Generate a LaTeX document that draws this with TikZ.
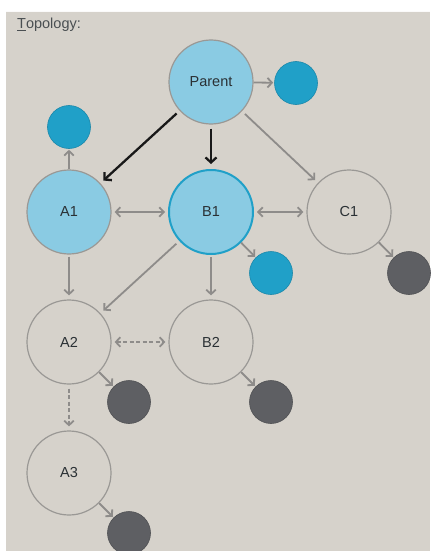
\documentclass[tikz,border=0pt]{standalone}
\usepackage{fontspec}
\setmainfont{Liberation Sans}
\usetikzlibrary{arrows.meta}
\definecolor{bgc}{HTML}{D6D2CB}
\definecolor{lblue}{HTML}{8ACBE3}
\definecolor{tealc}{HTML}{20A0C8}
\definecolor{darkc}{HTML}{5E5F63}
\definecolor{circg}{HTML}{9A9895}
\definecolor{arrg}{HTML}{8E8C8A}
\definecolor{txtc}{HTML}{2A3034}
\begin{document}
\begin{tikzpicture}[x=1pt,y=-1pt,
  big/.style={circle,minimum size=84pt,inner sep=0pt,draw=circg,line width=1.2pt,font=\fontsize{14.5}{15}\selectfont,text=txtc},
  bluebig/.style={big,fill=lblue},
  small/.style={circle,minimum size=43pt,inner sep=0pt},
  tealdot/.style={small,fill=tealc,draw=tealc!85!black,line width=0.6pt},
  darkdot/.style={small,fill=darkc,draw=darkc!85!black,line width=0.6pt},
  conn/.style={draw=arrg,line width=1.8pt,-{Straight Barb[length=4.5pt,width=9.5pt]}},
  conn2/.style={draw=arrg,line width=1.8pt,{Straight Barb[length=4.5pt,width=9.5pt]}-{Straight Barb[length=4.5pt,width=9.5pt]}},
  blk/.style={draw=black!90,line width=2.3pt,-{Straight Barb[length=5pt,width=11pt]}},
  dsh/.style={dash pattern=on 4pt off 2.5pt}
]
\useasboundingbox (0,0) rectangle (431,551);
\fill[white] (0,0) rectangle (431,551);
\fill[bgc] (6,11) rectangle (430,551);
\draw[white!90!bgc,line width=1pt] (6,11.5) -- (430,11.5);

\node[anchor=base west,inner sep=0pt,font=\fontsize{14.5}{15}\selectfont,text=txtc!85!white] (title) at (17,29) {\underline{T}opology:};

\node[bluebig] (P) at (211,82) {Parent};
\node[bluebig] (A1) at (69,212) {A1};
\node[bluebig,draw=tealc,line width=2pt] (B1) at (211,212) {B1};
\node[big] (C1) at (349,212) {C1};
\node[big] (A2) at (69,342) {A2};
\node[big] (B2) at (211,342) {B2};
\node[big] (A3) at (69,473) {A3};

\node[tealdot] (tP) at (296,83) {};
\node[tealdot] (tA1) at (69,127) {};
\node[tealdot] (tB1) at (271,273) {};
\node[darkdot] (dC1) at (409,273) {};
\node[darkdot] (dA2) at (129,402) {};
\node[darkdot] (dB2) at (271,402) {};
\node[darkdot] (dA3) at (129,533) {};

\draw[blk,shorten <=4pt,shorten >=4pt] (P) -- (A1);
\draw[blk,shorten <=4pt,shorten >=5pt] (P) -- (B1);
\draw[conn,shorten <=4pt,shorten >=4pt] (P) -- (C1);
\draw[conn,shorten >=1pt] (P) -- (tP);
\draw[conn,shorten >=1pt] (A1) -- (tA1);
\draw[conn2,shorten <=3pt,shorten >=3pt] (A1) -- (B1);
\draw[conn2,shorten <=3pt,shorten >=3pt] (B1) -- (C1);
\draw[conn,shorten >=1pt] (B1) -- (tB1);
\draw[conn,shorten >=1pt] (C1) -- (dC1);
\draw[conn,shorten <=2pt,shorten >=4pt] (A1) -- (A2);
\draw[conn,shorten <=4pt,shorten >=4pt] (B1) -- (A2);
\draw[conn,shorten <=2pt,shorten >=4pt] (B1) -- (B2);
\draw[conn2,dsh,shorten <=3pt,shorten >=3pt] (A2) -- (B2);
\draw[conn,shorten >=1pt] (A2) -- (dA2);
\draw[conn,dsh,shorten <=4pt,shorten >=4pt] (A2) -- (A3);
\draw[conn,shorten >=1pt] (B2) -- (dB2);
\draw[conn,shorten >=1pt] (A3) -- (dA3);
\end{tikzpicture}
\end{document}
